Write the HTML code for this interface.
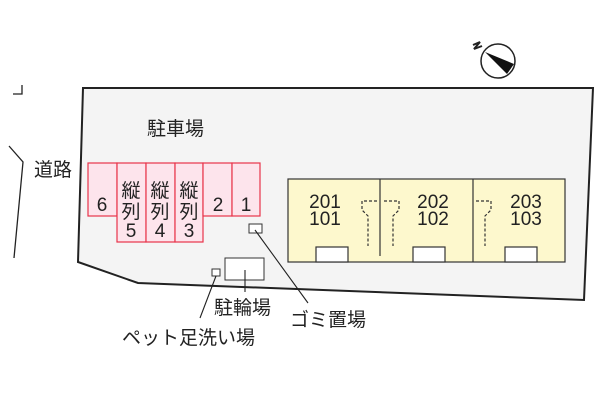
<!DOCTYPE html><html><head><meta charset="utf-8"><style>body{margin:0;background:#fff}svg{display:block}text{font-family:"Liberation Sans","Noto Sans CJK JP",sans-serif;fill:#222}</style></head><body>
<svg width="600" height="400" viewBox="0 0 600 400">
<polygon points="83,88 593,88 584,300 138,283 78,262" fill="#f4f4f4" stroke="#222" stroke-width="2"/>
<path d="M13,94 H22 V85" fill="none" stroke="#222" stroke-width="1.3"/>
<path d="M9,146 L23,162 L14,258" fill="none" stroke="#222" stroke-width="1.3"/>
<g fill="#fde4ec" stroke="#e8344a" stroke-width="1.2">
<rect x="88" y="163" width="29" height="53"/><rect x="117" y="163" width="29" height="79"/><rect x="146" y="163" width="29" height="79"/><rect x="175" y="163" width="28" height="79"/><rect x="203" y="163" width="29" height="53"/><rect x="232" y="163" width="28" height="53"/></g>
<g font-size="19" text-anchor="middle"><text x="102" y="211">6</text><text x="218" y="211">2</text><text x="246" y="211">1</text><text x="131" y="237">5</text><text x="160" y="237">4</text><text x="189" y="237">3</text>
<text x="131" y="197">縦</text><text x="131" y="218">列</text><text x="160" y="197">縦</text><text x="160" y="218">列</text><text x="189" y="197">縦</text><text x="189" y="218">列</text></g>
<rect x="288" y="179" width="277" height="83" fill="#fdf8cd" stroke="#333" stroke-width="1.2"/>
<path d="M380,179V256M473,179V262" stroke="#333" stroke-width="1.2"/>
<g fill="#fff" stroke="#333" stroke-width="1.2"><rect x="316" y="247" width="32" height="15"/><rect x="413" y="247" width="32" height="15"/><rect x="505" y="247" width="32" height="15"/></g>
<g fill="none" stroke="#333" stroke-width="1.2" stroke-dasharray="3,2"><path d="M377,201H362V210L368,216V246"/><path d="M384,201H399V210L393,216V246"/><path d="M476,201H491V210L485,216V246"/></g>
<g font-size="19" text-anchor="middle"><text x="325" y="208">201</text><text x="325" y="225">101</text><text x="433" y="208">202</text><text x="433" y="225">102</text><text x="526" y="208">203</text><text x="526" y="225">103</text></g>
<rect x="249" y="224" width="13" height="9" fill="#fff" stroke="#333"/>
<rect x="225" y="258" width="39" height="22" fill="#fff" stroke="#333"/>
<rect x="212" y="269" width="8" height="7" fill="#fff" stroke="#333"/>
<path d="M255,230L308,303M245,270V292M216,276L200,318" stroke="#222" stroke-width="1.1"/>
<g font-size="19"><text x="147" y="135">駐車場</text><text x="34" y="176">道路</text><text x="214" y="314">駐輪場</text><text x="290" y="326">ゴミ置場</text><text x="122" y="344">ペット足洗い場</text></g>
<circle cx="498" cy="61" r="17" fill="#fff" stroke="#222" stroke-width="1.5"/>
<polygon points="485,52 514,64 507,74" fill="#111"/>
<path d="M473,45L480,42L474,49L482,46" fill="none" stroke="#222" stroke-width="2"/>
</svg></body></html>
